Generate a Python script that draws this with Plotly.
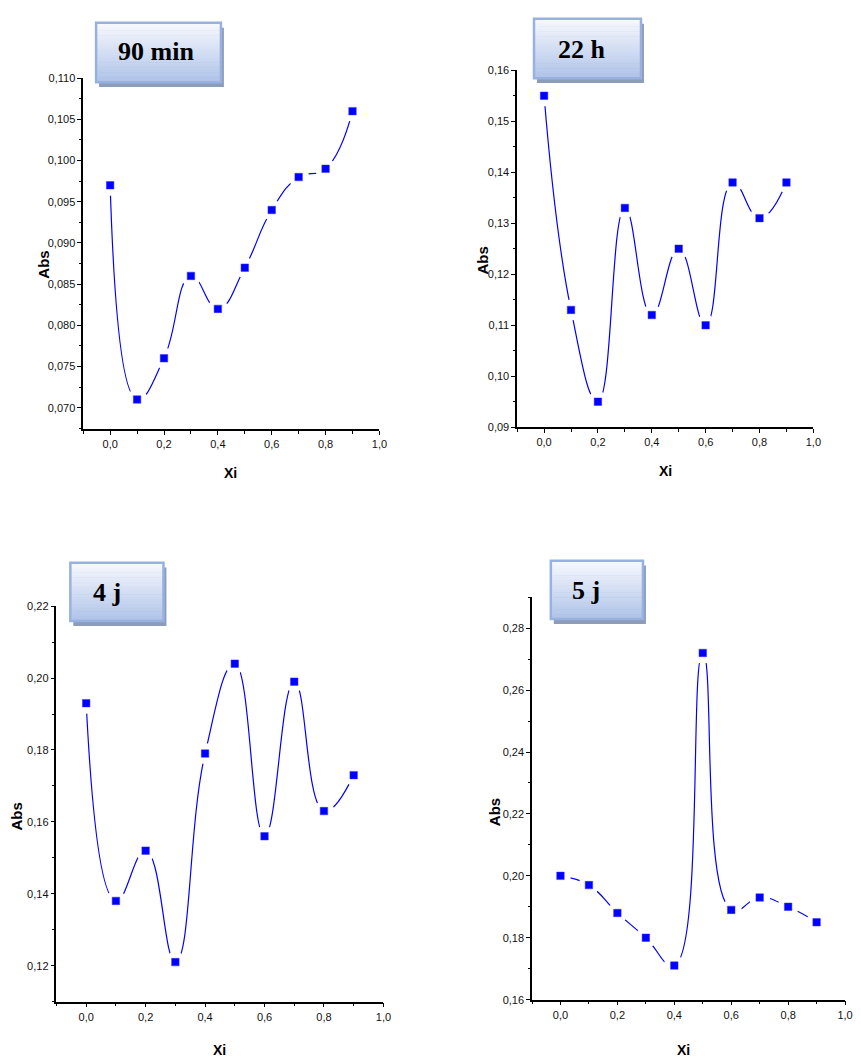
import plotly.graph_objects as go

W, H = 861, 1063

# Mole fraction and absorbance readings for each contact time
xi = [0.0, 0.1, 0.2, 0.3, 0.4, 0.5, 0.6, 0.7, 0.8, 0.9]
abs_90min = [0.097, 0.071, 0.076, 0.086, 0.082, 0.087, 0.094, 0.098, 0.099, 0.106]
abs_22h = [0.155, 0.113, 0.095, 0.133, 0.112, 0.125, 0.110, 0.138, 0.131, 0.138]
abs_4j = [0.193, 0.138, 0.152, 0.121, 0.179, 0.204, 0.156, 0.199, 0.163, 0.173]
abs_5j = [0.200, 0.197, 0.188, 0.180, 0.171, 0.272, 0.189, 0.193, 0.190, 0.185]
titles = ["90 min", "22 h", "4 j", "5 j"]
series = [abs_90min, abs_22h, abs_4j, abs_5j]

x_ticks = [0.0, 0.2, 0.4, 0.6, 0.8, 1.0]


def px_x(v):
    return v / W


def px_y(v):
    return 1 - v / H


# Panel layout in pixels: plot frame, y range, tick step, label format,
# title box, "Abs" label position, "Xi" label position
panels = [
    dict(frame=(84, 73, 383, 428), yr=(0.0674, 0.110), dt=0.005, fmt=".3f",
         box=(97, 17, 223, 77), txt=(157, 46), abs_pos=(43, 262), xi_pos=(233, 472)),
    dict(frame=(522, 65, 821, 426), yr=(0.09, 0.16), dt=0.01, fmt=".2f",
         box=(539, 13, 647, 73), txt=(587, 44), abs_pos=(487, 257), xi_pos=(672, 470)),
    dict(frame=(57, 607, 387, 1007), yr=(0.11, 0.22), dt=0.02, fmt=".2f",
         box=(71, 563, 165, 622), txt=(108, 593), abs_pos=(17, 820), xi_pos=(222, 1056)),
    dict(frame=(537, 598, 853, 1005), yr=(0.16, 0.29), dt=0.02, fmt=".2f",
         box=(556, 561, 649, 620), txt=(592, 591), abs_pos=(499, 815), xi_pos=(690, 1056)),
]

tick_font = dict(family="Liberation Sans, Arial, sans-serif", size=11, color="#111111")

fig = go.Figure()
shapes = []
annotations = []
layout_axes = {}

for i, (p, ys, title) in enumerate(zip(panels, series, titles)):
    n = "" if i == 0 else str(i + 1)
    xa, ya = "x" + n, "y" + n
    l, t, r, b = p["frame"]

    # smooth connecting curve
    fig.add_trace(go.Scatter(
        x=xi, y=ys, xaxis=xa, yaxis=ya, mode="lines",
        line=dict(color="#0000ff", width=1.2, shape="spline", smoothing=1.3),
        hoverinfo="skip", showlegend=False))
    # white halo leaving a gap between curve and symbols
    fig.add_trace(go.Scatter(
        x=xi, y=ys, xaxis=xa, yaxis=ya, mode="markers",
        marker=dict(symbol="circle", size=21, color="white"),
        hoverinfo="skip", showlegend=False))
    # data symbols
    fig.add_trace(go.Scatter(
        x=xi, y=ys, xaxis=xa, yaxis=ya, mode="markers",
        marker=dict(symbol="square", size=7.5, color="#0000ff",
                    line=dict(color="#3030ff", width=0.5)),
        showlegend=False))

    layout_axes["xaxis" + n] = dict(
        domain=[px_x(l), px_x(r)], anchor=ya, range=[-0.1, 1.0],
        tickmode="array", tickvals=x_ticks, tickformat=".1f",
        showline=True, linecolor="black", linewidth=1.5, mirror=False,
        ticks="outside", ticklen=4, tickwidth=1.2, tickcolor="black",
        minor=dict(dtick=0.1, tick0=0, ticks="outside", ticklen=3, tickwidth=1, tickcolor="black"),
        showgrid=False, zeroline=False, tickfont=tick_font, fixedrange=True)
    layout_axes["yaxis" + n] = dict(
        domain=[px_y(b), px_y(t)], anchor=xa, range=list(p["yr"]),
        tick0=0, dtick=p["dt"], tickformat=p["fmt"],
        showline=True, linecolor="black", linewidth=1.5, mirror=False,
        ticks="outside", ticklen=4, tickwidth=1.2, tickcolor="black",
        minor=dict(dtick=p["dt"] / 2, tick0=0, ticks="outside", ticklen=2.5, tickwidth=1, tickcolor="black"),
        showgrid=False, zeroline=False, tickfont=tick_font, fixedrange=True)

    # title box: drop shadow, vertical gradient fill, border
    bl, bt, br, bb = p["box"]
    shapes.append(dict(type="rect", xref="paper", yref="paper",
                       x0=px_x(bl + 3), x1=px_x(br + 3), y0=px_y(bb + 5), y1=px_y(bt + 5),
                       fillcolor="#8d9cb9", line=dict(width=0)))
    steps = 24
    top_c = (246, 248, 253)
    bot_c = (176, 196, 233)
    for k in range(steps):
        f = k / (steps - 1)
        c = tuple(round(top_c[j] + (bot_c[j] - top_c[j]) * f) for j in range(3))
        y0 = bt + (bb - bt) * k / steps
        y1 = bt + (bb - bt) * (k + 1) / steps
        shapes.append(dict(type="rect", xref="paper", yref="paper",
                           x0=px_x(bl), x1=px_x(br), y0=px_y(y1 + 0.5), y1=px_y(y0),
                           fillcolor="rgb(%d,%d,%d)" % c, line=dict(width=0)))
    shapes.append(dict(type="rect", xref="paper", yref="paper",
                       x0=px_x(bl), x1=px_x(br), y0=px_y(bb), y1=px_y(bt),
                       fillcolor="rgba(0,0,0,0)", line=dict(color="#97b1e0", width=2.5)))
    annotations.append(dict(text="<b>%s</b>" % title, xref="paper", yref="paper",
                            x=px_x(p["txt"][0]), y=px_y(p["txt"][1]),
                            xanchor="center", yanchor="middle", showarrow=False,
                            font=dict(family="Liberation Serif, Times New Roman, serif",
                                      size=26, color="black")))

    # axis titles
    annotations.append(dict(text="<b>Abs</b>", xref="paper", yref="paper",
                            x=px_x(p["abs_pos"][0]), y=px_y(p["abs_pos"][1]),
                            xanchor="center", yanchor="middle", showarrow=False, textangle=-90,
                            font=dict(family="Liberation Sans, Arial, sans-serif", size=15, color="black")))
    annotations.append(dict(text="<b>Xi</b>", xref="paper", yref="paper",
                            x=px_x(p["xi_pos"][0]), y=px_y(p["xi_pos"][1]),
                            xanchor="center", yanchor="middle", showarrow=False,
                            font=dict(family="Liberation Sans, Arial, sans-serif",
                                      size=14, color="black")))

fig.update_layout(
    width=W, height=H, margin=dict(l=0, r=0, t=0, b=0),
    paper_bgcolor="white", plot_bgcolor="white",
    separators=", ", showlegend=False,
    shapes=shapes, annotations=annotations, **layout_axes)

fig.write_html("out.html")
